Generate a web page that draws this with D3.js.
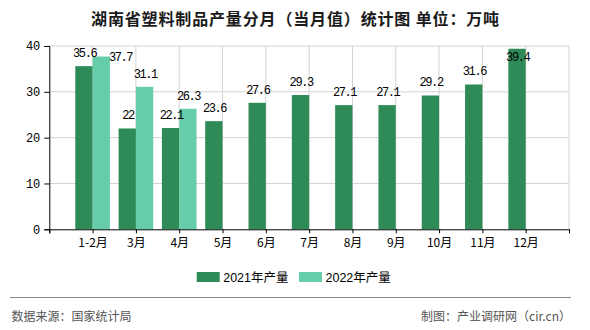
<!DOCTYPE html>
<html><head><meta charset="utf-8">
<script src="https://cdn.jsdelivr.net/npm/d3@7"></script>
<style>
html,body{margin:0;padding:0;background:#fff;}
svg{display:block;}
</style></head>
<body>
<svg id="chart" width="590" height="330"></svg>
<script>
const title = "湖南省塑料制品产量分月（当月值）统计图 单位：万吨";
const categories = ["1-2月","3月","4月","5月","6月","7月","8月","9月","10月","11月","12月"];
const series2021 = [35.6,22,22.1,23.6,27.6,29.3,27.1,27.1,29.2,31.6,39.4];
const series2022 = [37.7,31.1,26.3,null,null,null,null,null,null,null,null];
const seriesNames = ["2021年产量","2022年产量"];
const seriesColors = ["#2e8b57","#66cdaa"];
const yTicks = [0,10,20,30,40];
const sourceText = "数据来源：国家统计局";
const creditText = "制图：产业调研网（cir.cn）";

(function(){
const svg = d3.select("#chart");
const cjk = "'Noto Sans CJK SC','Noto Sans',sans-serif";
const mono = "'Liberation Mono','DejaVu Sans Mono',monospace";

const pL = 49.3, pR = 569, pT = 46, pB = 229.3;
const slots = ["__s", ...categories, "__e"];
const x = d3.scalePoint().domain(slots).range([pL, pR]);
const step = x.step();
const bw = step * 0.4;
const y = d3.scaleLinear().domain([0, 40]).range([pB, pT]);

// title
svg.append("text").attr("x", 295.5).attr("y", 25).attr("text-anchor", "middle")
  .attr("font-family", cjk).attr("font-size", 16).attr("font-weight", "bold")
  .attr("letter-spacing", 0.85)
  .attr("fill", "#1a1a1a").text(title);

// grid
const g = svg.append("g");
g.selectAll("line.h").data(yTicks.filter(d => d > 0)).enter().append("line")
  .attr("x1", pL).attr("x2", pR).attr("y1", d => y(d)).attr("y2", d => y(d))
  .attr("stroke", "#d3d3d3").attr("stroke-width", 1);
g.selectAll("line.v").data(slots.slice(1)).enter().append("line")
  .attr("x1", d => x(d)).attr("x2", d => x(d)).attr("y1", pT).attr("y2", pB)
  .attr("stroke", "#d3d3d3").attr("stroke-width", 1);

// bars
const bars = svg.append("g");
[series2021, series2022].forEach((s, si) => {
  bars.selectAll(null).data(categories.map((c, i) => ({c, v: s[i]})).filter(d => d.v != null))
    .enter().append("rect")
    .attr("x", d => si === 0 ? x(d.c) - bw : x(d.c))
    .attr("y", d => y(d.v)).attr("width", bw).attr("height", d => pB - y(d.v))
    .attr("fill", seriesColors[si]);
});

// axes
const xAxis = d3.axisBottom(x).tickSize(4).tickPadding(4)
  .tickFormat(d => d.startsWith("__") ? "" : d);
const xa = svg.append("g").attr("transform", `translate(0,${pB})`).call(xAxis);
xa.select(".domain").attr("stroke", "#000");
xa.selectAll(".tick line").attr("stroke", "#000");
xa.selectAll("text").attr("font-family", cjk).attr("font-size", 12).attr("fill", "#000").attr("dy", "0.85em");

const yAxis = d3.axisLeft(y).tickValues(yTicks).tickSize(5).tickPadding(4);
const ya = svg.append("g").attr("transform", `translate(${pL},0)`).call(yAxis);
ya.select(".domain").attr("stroke", "#000");
ya.selectAll(".tick line").attr("stroke", "#000");
ya.selectAll("text").attr("font-family", mono).attr("font-size", 12).attr("fill", "#000");

// data labels (placed above bars; clamped inside plot top; nudged right on overlap)
const labels = [];
[series2021, series2022].forEach((s, si) => {
  categories.forEach((c, i) => {
    if (s[i] == null) return;
    labels.push({c, v: s[i], si, cx: si === 0 ? x(c) - bw / 2 : x(c) + bw / 2});
  });
});
labels.sort((a, b) => a.cx - b.cx);
const lg = svg.append("g").attr("font-family", mono).attr("font-size", 12).attr("fill", "#000");
const placed = [];
labels.forEach(d => {
  const txt = String(d.v);
  const w = txt.length * 5.8;
  let base = y(d.v) - 9;
  if (base - 8 < pT) base = pT + 14.5;
  let cx = d.cx;
  const box = () => ({x0: cx - w / 2, x1: cx + w / 2, y0: base - 8, y1: base});
  let b = box();
  if (placed.some(p => p.x0 < b.x1 && p.x1 > b.x0 && p.y0 < b.y1 && p.y1 > b.y0)) {
    cx += w * 0.8;
    b = box();
  }
  placed.push(b);
  lg.append("text").attr("x", cx + 0.7).attr("y", base).attr("text-anchor", "middle")
    .attr("letter-spacing", -1.4).text(txt);
});

// legend
const leg = svg.append("g");
const legX = [196.7, 299];
seriesNames.forEach((n, i) => {
  leg.append("rect").attr("x", legX[i]).attr("y", 272).attr("width", 23).attr("height", 10).attr("fill", seriesColors[i]);
  leg.append("text").attr("x", legX[i] + 26.5).attr("y", 282).attr("font-family", "'Liberation Sans','Noto Sans CJK SC',sans-serif")
    .attr("font-size", 12.5).attr("fill", "#000").text(n);
});

// footer
svg.append("line").attr("x1", 10).attr("x2", 571).attr("y1", 297.5).attr("y2", 297.5).attr("stroke", "#888").attr("stroke-width", 1);
svg.append("text").attr("x", 11.5).attr("y", 320.5).attr("font-family", cjk).attr("font-size", 12).attr("fill", "#555").text(sourceText);
svg.append("text").attr("x", 571).attr("y", 320.5).attr("text-anchor", "end").attr("font-family", cjk).attr("font-size", 12).attr("fill", "#555").text(creditText);
})();
</script>
</body></html>
